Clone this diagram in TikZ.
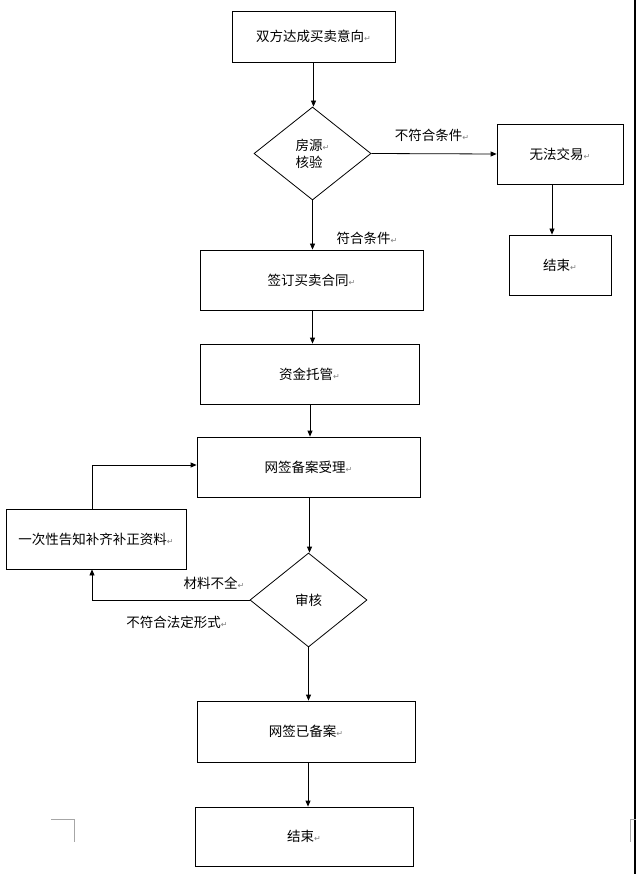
\documentclass[tikz,border=0pt]{standalone}
\usepackage{fontspec}
\setmainfont{Noto Sans CJK SC}
\newfontfamily\dejavu{DejaVu Sans}
\usetikzlibrary{arrows.meta,shapes.geometric}
\newcommand\pmk{{\color{gray}\fontsize{8}{8}\selectfont\dejavu ↵}}
\newcommand\fsz{\fontsize{13.5}{17}\selectfont}
\tikzset{
  box/.style={draw, line width=0.8pt, inner sep=0pt, align=center, font=\fsz},
  dia/.style={diamond, draw, line width=0.8pt, inner sep=0pt, align=left, font=\fsz},
  arr/.style={-{Triangle[length=6pt,width=5pt]}, line width=0.8pt},
  lbl/.style={font=\fsz, inner sep=0pt},
  cornermark/.style={draw=gray!70, line width=0.8pt}
}
\begin{document}
\begin{tikzpicture}[x=1pt,y=-1pt]
\useasboundingbox[fill=white] (0,0) rectangle (636,874);
% nodes
\node[box, minimum width=163pt, minimum height=51pt] (b1) at (313.5,36.5) {双方达成买卖意向\pmk};
\node[dia, minimum width=117pt, minimum height=93pt] (d1) at (312.5,153.5) {房源\pmk\\核验};
\node[box, minimum width=126pt, minimum height=60pt] (nt) at (560,154) {无法交易\pmk};
\node[box, minimum width=102pt, minimum height=60pt] (e1) at (560,265) {结束\pmk};
\node[box, minimum width=223pt, minimum height=60pt] (sign) at (311.5,280) {签订买卖合同\pmk};
\node[box, minimum width=219pt, minimum height=60pt] (fund) at (309.5,374) {资金托管\pmk};
\node[box, minimum width=223pt, minimum height=60pt] (wq) at (308.5,467) {网签备案受理\pmk};
\node[dia, minimum width=117pt, minimum height=94pt] (d2) at (308.5,600) {审核};
\node[box, minimum width=180pt, minimum height=60pt] (ntf) at (96,539) {一次性告知补齐补正资料\pmk};
\node[box, minimum width=218pt, minimum height=61pt] (done) at (306,731.5) {网签已备案\pmk};
\node[box, minimum width=218pt, minimum height=59pt] (e2) at (304,836.5) {结束\pmk};
% labels
\node[lbl] (l1) at (432,135) {不符合条件\pmk};
\node[lbl] (l2) at (367,238) {符合条件\pmk};
\node[lbl] (l3) at (214,583) {材料不全\pmk};
\node[lbl] (l4) at (177,622) {不符合法定形式\pmk};
% connectors
\draw[arr] (b1) -- (b1.south |- d1.north);
\draw[arr] (d1.east) -- (nt.west);
\draw[arr] ([xshift=-8pt]nt.south) -- ([xshift=-8pt]nt.south |- e1.north);
\draw[arr] (d1.south) -- (d1.south |- sign.north);
\draw[arr] ([xshift=1pt]sign.south) -- ([xshift=1pt]sign.south |- fund.north);
\draw[arr] ([xshift=0.5pt]fund.south) -- ([xshift=0.5pt]fund.south |- wq.north);
\draw[arr] ([xshift=1pt]wq.south) -- ([xshift=1pt]wq.south |- d2.north);
\draw[arr] (d2.west) -| ([xshift=-4pt]ntf.south);
\draw[arr] ([xshift=-4pt]ntf.north) |- ([yshift=2pt]wq.west);
\draw[arr] (d2.south) -- (d2.south |- done.north);
\draw[arr] ([xshift=2pt]done.south) -- ([xshift=2pt]done.south |- e2.north);
% page decorations
\draw[line width=2.5pt] (634.8,0) -- (634.8,874);
\draw[cornermark] (51,819) -- (74,819) -- (74,842);
\draw[cornermark] (636,819) -- (630,819) -- (630,842);
\end{tikzpicture}
\end{document}
